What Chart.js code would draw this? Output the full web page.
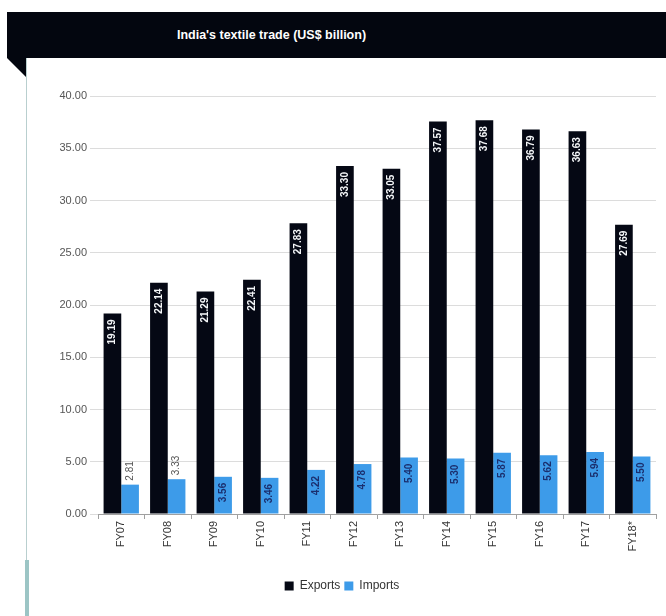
<!DOCTYPE html>
<html>
<head>
<meta charset="utf-8">
<script src="https://cdn.jsdelivr.net/npm/chart.js@4"></script>
<style>
  html, body { margin:0; padding:0; background:#ffffff; width:666px; height:616px; overflow:hidden; }
  #banner { position:absolute; left:7px; top:12px; width:659px; height:46px; background:#03060f;
            color:#ffffff; font:bold 12.5px "Liberation Sans", Arial, sans-serif; text-align:center; line-height:46px; }
  #banner span { position:relative; left:-65px; }
  #fold { position:absolute; left:7px; top:58px; width:0; height:0;
          border-top:19px solid #03060f; border-left:19px solid transparent; }
  #panelLine { position:absolute; left:26px; top:58px; width:1px; height:502px; background:#b9cfcf; }
  #panelLine2 { position:absolute; left:25px; top:560px; width:4px; height:56px; background:#9cc5c5; }
  #wrap { position:absolute; left:28px; top:58px; width:638px; height:558px; }
</style>
</head>
<body>
<div id="banner"><span>India's textile trade (US$ billion)</span></div>
<div id="fold"></div>
<div id="panelLine"></div>
<div id="panelLine2"></div>
<div id="wrap"><canvas id="c" width="638" height="558"></canvas></div>
<script>
const categories = ['FY07','FY08','FY09','FY10','FY11','FY12','FY13','FY14','FY15','FY16','FY17','FY18*'];
const exportsValues = [19.19, 22.14, 21.29, 22.41, 27.83, 33.30, 33.05, 37.57, 37.68, 36.79, 36.63, 27.69];
const importsValues = [2.81, 3.33, 3.56, 3.46, 4.22, 4.78, 5.40, 5.30, 5.87, 5.62, 5.94, 5.50];
const yTicks = [0, 5, 10, 15, 20, 25, 30, 35, 40];

const barLabels = {
  id: 'barLabels',
  afterDatasetsDraw(chart) {
    const ctx = chart.ctx;
    const yScale = chart.scales.y;
    chart.data.datasets.forEach((ds, di) => {
      const meta = chart.getDatasetMeta(di);
      meta.data.forEach((bar, i) => {
        const v = ds.data[i];
        const txt = v.toFixed(2);
        ctx.save();
        ctx.font = 'bold 10px "Liberation Sans", Arial, sans-serif';
        const w = ctx.measureText(txt).width;
        const h = yScale.getPixelForValue(0) - bar.y;
        ctx.translate(bar.x, bar.y);
        ctx.rotate(-Math.PI / 2);
        ctx.textBaseline = 'middle';
        if (h >= w + 16) {
          ctx.textAlign = 'right';
          ctx.fillStyle = di === 0 ? '#f4f6f8' : '#1b2f6e';
          ctx.fillText(txt, -6, 0);
        } else {
          ctx.textAlign = 'left';
          ctx.fillStyle = '#555555';
          ctx.font = '10px "Liberation Sans", Arial, sans-serif';
          ctx.fillText(txt, 4, 0);
        }
        ctx.restore();
      });
    });
  }
};

new Chart(document.getElementById('c'), {
  type: 'bar',
  data: {
    labels: categories,
    datasets: [
      { label: 'Exports', data: exportsValues, backgroundColor: '#050814', borderWidth: 0,
        categoryPercentage: 0.76, barPercentage: 1.0 },
      { label: 'Imports', data: importsValues, backgroundColor: '#3d9be9', borderWidth: 0,
        categoryPercentage: 0.76, barPercentage: 1.0 }
    ]
  },
  plugins: [barLabels],
  options: {
    responsive: false,
    animation: false,
    devicePixelRatio: 1,
    layout: { padding: { top: 38, right: 10, bottom: 14, left: 0 } },
    plugins: {
      legend: {
        position: 'bottom',
        labels: {
          boxWidth: 9, boxHeight: 9, padding: 4, color: '#333333',
          font: { family: '"Liberation Sans", Arial, sans-serif', size: 12 }
        }
      },
      tooltip: { enabled: false }
    },
    scales: {
      x: {
        offset: true,
        grid: { display: true, drawOnChartArea: false, offset: true, tickLength: 5, color: '#a0a0a0' },
        border: { display: true, color: '#a0a0a0' },
        ticks: {
          minRotation: 90, maxRotation: 90, padding: 2, color: '#333333',
          font: { family: '"Liberation Sans", Arial, sans-serif', size: 11 }
        },
        afterFit(s) { s.height = 62; }
      },
      y: {
        min: 0, max: 40,
        afterBuildTicks(s) { s.ticks = yTicks.map(v => ({ value: v })); },
        grid: { color: '#dcdcdc', tickLength: 8 },
        border: { display: false },
        ticks: {
          padding: 3, color: '#555555',
          font: { family: '"Liberation Sans", Arial, sans-serif', size: 11 },
          callback: (v) => Number(v).toFixed(2)
        },
        afterFit(s) { s.width = 70; }
      }
    }
  }
});
</script>
</body>
</html>
